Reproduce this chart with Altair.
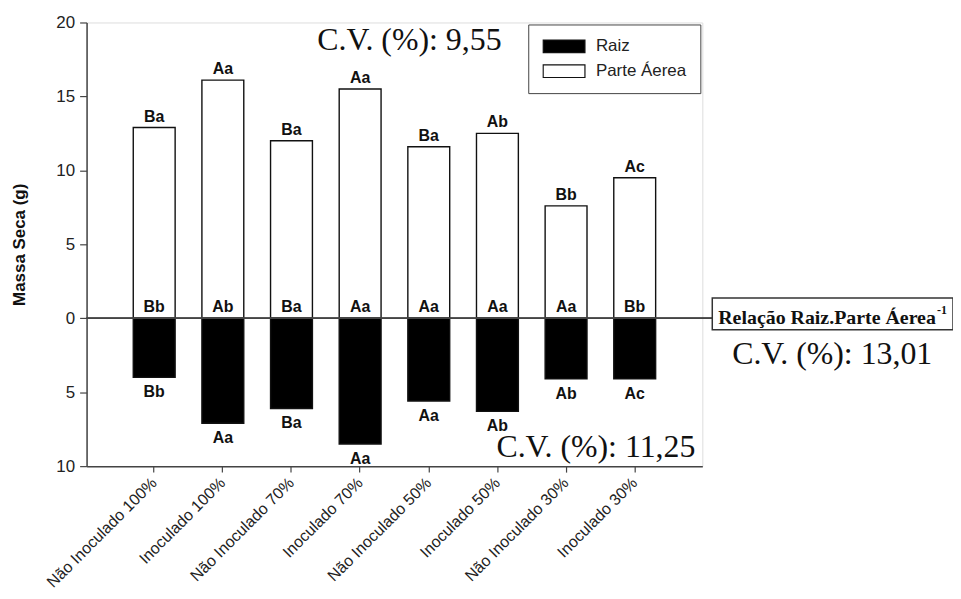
import altair as alt
import pandas as pd

# ---- data ----
categories = ["Não Inoculado 100%", "Inoculado 100%", "Não Inoculado 70%", "Inoculado 70%",
              "Não Inoculado 50%", "Inoculado 50%", "Não Inoculado 30%", "Inoculado 30%"]
parte_aerea = [12.9, 16.1, 12.0, 15.5, 11.6, 12.5, 7.6, 9.5]
raiz = [4.0, 7.1, 6.1, 8.5, 5.6, 6.3, 4.1, 4.1]
letras_aerea = ["Ba", "Aa", "Ba", "Aa", "Ba", "Ab", "Bb", "Ac"]
letras_relacao = ["Bb", "Ab", "Ba", "Aa", "Aa", "Aa", "Aa", "Bb"]
letras_raiz = ["Bb", "Aa", "Ba", "Aa", "Aa", "Ab", "Ab", "Ac"]
series_names = ["Raiz", "Parte Áerea"]
y_ticks = [-10, -5, 0, 5, 10, 15, 20]
cv_aerea = "C.V. (%): 9,55"
cv_raiz = "C.V. (%): 11,25"
cv_relacao = "C.V. (%): 13,01"
relacao_title = "Relação Raiz.Parte Áerea"
relacao_sup = "-1"

rows = []
for c, a, r in zip(categories, parte_aerea, raiz):
    rows.append({"cat": c, "serie": "Parte Áerea", "v0": 0, "v": a})
    rows.append({"cat": c, "serie": "Raiz", "v0": 0, "v": -r})
bars_df = pd.DataFrame(rows)

lab_df = pd.DataFrame({
    "cat": categories,
    "aerea": parte_aerea,
    "raiz": [-x for x in raiz],
    "la": letras_aerea,
    "lrel": letras_relacao,
    "lr": letras_raiz,
})

SANS = "Liberation Sans"
SERIF = "Liberation Serif"
W, H = 619, 446

x_enc = alt.X("cat:N", sort=categories, title=None,
              scale=alt.Scale(paddingInner=0.39, paddingOuter=0.68),
              axis=alt.Axis(labelAngle=-45, labelAlign="right", labelBaseline="middle",
                            labelFont=SANS, labelFontSize=16, labelColor="#222",
                            labelPadding=8, tickSize=6, tickColor="#444", tickWidth=1.2,
                            domainColor="#444", domainWidth=1.5))
y_scale = alt.Scale(domain=[-10, 20], nice=False)

bars = alt.Chart(bars_df).mark_bar(stroke="#111", strokeWidth=1.4).encode(
    x=x_enc,
    y=alt.Y("v:Q", scale=y_scale, title="Massa Seca (g)",
            axis=alt.Axis(values=y_ticks, labelExpr="format(abs(datum.value), 'd')",
                          labelFont=SANS, labelFontSize=17, labelColor="#222",
                          labelPadding=5, tickSize=7, tickColor="#444", tickWidth=1.2,
                          domainColor="#444", domainWidth=1.5, grid=False,
                          titleFont=SANS, titleFontSize=17, titleFontWeight="bold",
                          titleColor="#111", titlePadding=27)),
    y2="v0:Q",
    fill=alt.Fill("serie:N", scale=alt.Scale(domain=series_names, range=["#000000", "#ffffff"]),
                  legend=alt.Legend(title=None, orient="none", legendX=444, legendY=2,
                                    symbolType="M-1,-0.3H1V0.3H-1Z", symbolSize=1764,
                                    clipHeight=16,
                                    symbolStrokeColor="#111", symbolStrokeWidth=1.2,
                                    labelFont=SANS, labelFontSize=17, labelColor="#222",
                                    labelOffset=10, padding=14, rowPadding=8,
                                    strokeColor="#444", fillColor="white")),
)

zero = alt.Chart(lab_df).mark_rule(color="#444", strokeWidth=1.2).encode(
    y=alt.datum(0), x=alt.value(0), x2=alt.value(630))

txt_kw = dict(font=SANS, fontSize=16, fontWeight="bold", color="#111")
top_lab = alt.Chart(lab_df).mark_text(baseline="alphabetic", dy=-6, **txt_kw).encode(
    x=alt.X("cat:N", sort=categories), y=alt.Y("aerea:Q"), text="la:N")
rel_lab = alt.Chart(lab_df).mark_text(baseline="alphabetic", dy=-6, **txt_kw).encode(
    x=alt.X("cat:N", sort=categories), y=alt.datum(0), text="lrel:N")
root_lab = alt.Chart(lab_df).mark_text(baseline="top", dy=7, **txt_kw).encode(
    x=alt.X("cat:N", sort=categories), y=alt.Y("raiz:Q"), text="lr:N")

ann = pd.DataFrame({"t": [relacao_title]})
rel_box = alt.Chart(ann).mark_rect(fill="white", stroke="#333", strokeWidth=1.5).encode(
    x=alt.value(629), x2=alt.value(871), y=alt.value(277), y2=alt.value(309))
rel_text = alt.Chart(ann).mark_text(font=SERIF, fontSize=20, fontWeight="bold", align="left",
                                    baseline="alphabetic", color="#111").encode(
    x=alt.value(635), y=alt.value(303), text=alt.value(relacao_title))
rel_sup = alt.Chart(ann).mark_text(font=SERIF, fontSize=12, fontWeight="bold", align="left",
                                   baseline="alphabetic", color="#111").encode(
    x=alt.value(855), y=alt.value(293), text=alt.value(relacao_sup))

cv_kw = dict(font=SERIF, fontSize=32, baseline="alphabetic", color="#111")
cv1 = alt.Chart(ann).mark_text(align="left", **cv_kw).encode(
    x=alt.value(232), y=alt.value(28), text=alt.value(cv_aerea))
cv2 = alt.Chart(ann).mark_text(align="right", **cv_kw).encode(
    x=alt.value(612), y=alt.value(437), text=alt.value(cv_raiz))
cv3 = alt.Chart(ann).mark_text(align="left", **cv_kw).encode(
    x=alt.value(649), y=alt.value(343), text=alt.value(cv_relacao))

chart = alt.layer(bars, zero, top_lab, rel_lab, root_lab, rel_box, rel_text, rel_sup,
                  cv1, cv2, cv3).properties(
    width=W, height=H,
    autosize=alt.AutoSizeParams(type="none"),
    padding={"left": 79, "top": 13, "right": 252, "bottom": 132},
).configure_view(stroke="#444", strokeWidth=1.5).configure(background="white")

chart.save("out.html", embed_options={"renderer": "svg", "actions": False})
